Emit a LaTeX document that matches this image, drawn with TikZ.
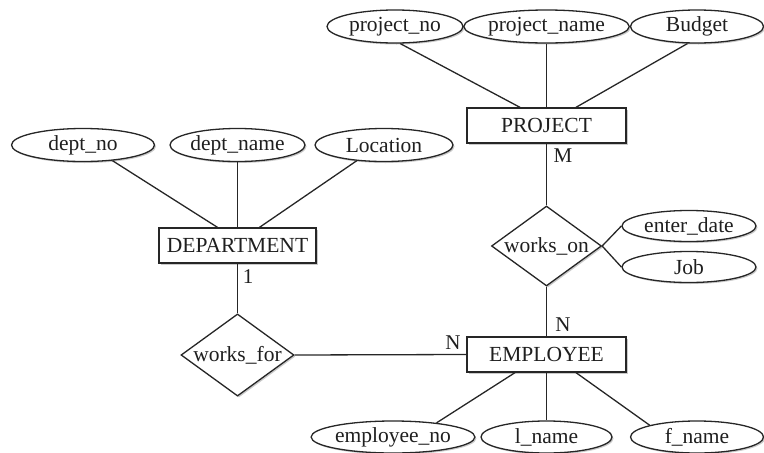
\documentclass[tikz,border=0pt]{standalone}
\usepackage{fontspec}
\setmainfont{Liberation Serif}
\usetikzlibrary{shapes.geometric,shadows,calc}
\tikzset{
  base/.style={draw=black!85, line width=1.3pt, fill=white, inner sep=0pt, text=black!88,
    font=\fontsize{21.5}{25}\selectfont,
    drop shadow={shadow xshift=1.5pt, shadow yshift=-1.5pt, fill=black!35, opacity=0.6}},
  attr/.style={base, ellipse, minimum width=#1, minimum height=33pt},
  entity/.style={base, rectangle, minimum width=159pt, minimum height=35pt},
  rel/.style={base, diamond, aspect=1.375, minimum width=#1, minimum height=80pt},
  card/.style={inner sep=0pt, text=black!88, font=\fontsize{21}{25}\selectfont},
  link/.style={draw=black!85, line width=1.3pt}
}
\begin{document}
\begin{tikzpicture}[x=1pt,y=-1pt]
\useasboundingbox (0,0) rectangle (764,453);
% project side
\node[attr=136pt] (pno) at (395,26.5) {project\_no};
\node[attr=137pt] (pname) at (546.5,26.5) {project\_name};
\node[attr=133pt] (budget) at (697,26.5) {Budget};
\node[entity] (project) at (546.5,125.5) {PROJECT};
% department side
\node[attr=143pt] (dno) at (83,145) {dept\_no};
\node[attr=135pt] (dname) at (237.5,145) {dept\_name};
\node[attr=138pt] (loc) at (384,145) {Location};
\node[entity, minimum width=157pt] (dept) at (237.5,245.5) {DEPARTMENT};
% relationships
\node[rel=110pt] (workson) at (546.5,246) {works\_on};
\node[attr=134pt, minimum height=31pt] (enter) at (689,226) {enter\_date};
\node[attr=134pt, minimum height=31pt] (job) at (689,267) {Job};
\node[rel=113pt] (worksfor) at (237.5,355) {works\_for};
% employee
\node[entity] (emp) at (546.5,354.5) {EMPLOYEE};
\node[attr=133pt, minimum height=32pt] (eno) at (393,437) {employee\_no};
\node[attr=131pt, minimum height=32pt] (lname) at (546.5,437) {l\_name};
\node[attr=133pt, minimum height=32pt] (fname) at (697,437) {f\_name};
% cardinalities
\node[card] (cm) at (563,156) {M};
\node[card] (c1) at (248,277) {1};
\node[card] (cn1) at (563,325) {N};
\node[card] (cn2) at (453,343) {N};
% connectors
\draw[link] (pno.-73) -- ($(project.north)+(-26.5,0)$);
\draw[link] (pname.south) -- (project.north);
\draw[link] (budget.-119) -- ($(project.north)+(29.5,0)$);
\draw[link] (dno.-28) -- ($(dept.north)+(-20,0)$);
\draw[link] (dname.south) -- (dept.north);
\draw[link] (loc.-150) -- ($(dept.north)+(22,0)$);
\draw[link] (project.south) -- (workson.north);
\draw[link] (workson.east) -- (enter.west);
\draw[link] (workson.east) -- (job.west);
\draw[link] (workson.south) -- (emp.north);
\draw[link] (dept.south) -- (worksfor.north);
\draw[link] (worksfor.east) -- (emp.west);
\draw[link] ($(emp.south)+(-31.5,0)$) -- (eno.18);
\draw[link] (emp.south) -- (lname.north);
\draw[link] ($(emp.south)+(29.5,0)$) -- (fname.166);
\end{tikzpicture}
\end{document}
